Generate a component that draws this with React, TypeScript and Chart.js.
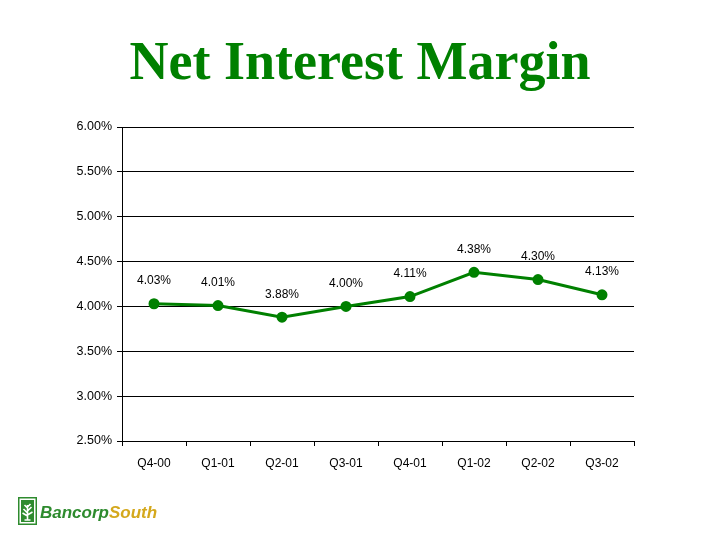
import React, { useEffect, useRef } from "react";
import { Chart, registerables } from "chart.js";

Chart.register(...registerables);

const categories = ["Q4-00", "Q1-01", "Q2-01", "Q3-01", "Q4-01", "Q1-02", "Q2-02", "Q3-02"];
const marginValues = [4.03, 4.01, 3.88, 4.0, 4.11, 4.38, 4.3, 4.13];
const yMin = 2.5;
const yMax = 6.0;
const yStep = 0.5;

const GREEN = "#008000";

const labelPlugin = {
  id: "pointLabels",
  afterDatasetsDraw(chart: any) {
    const ctx = chart.ctx;
    const meta = chart.getDatasetMeta(0);
    ctx.save();
    ctx.font = "12px 'Liberation Sans', Arial, sans-serif";
    ctx.fillStyle = "#000";
    ctx.textAlign = "center";
    ctx.textBaseline = "middle";
    meta.data.forEach((pt: any, i: number) => {
      ctx.fillText(marginValues[i].toFixed(2) + "%", pt.x, pt.y - 23);
    });
    ctx.restore();
  },
};

function Logo() {
  return (
    <div style={{ position: "absolute", left: 18, top: 497, display: "flex", alignItems: "center", height: 28 }}>
      <svg width="19" height="28" viewBox="0 0 19 28">
        <rect x="0" y="0" width="19" height="28" fill="#2e8b2e" />
        <rect x="1.5" y="1.5" width="16" height="25" fill="#fff" />
        <rect x="3" y="3" width="13" height="22" fill="#2e8b2e" />
        <path d="M9.5 23 L9.5 8 M9.5 16 L5.5 12 M9.5 14 L13.5 10 M9.5 19 L4.5 16 M9.5 18 L14.5 15 M9.5 11 L6.5 8 M9.5 10 L12.5 7"
          stroke="#fff" strokeWidth="1.6" fill="none" />
        <path d="M6.5 23 L12.5 23" stroke="#fff" strokeWidth="1.5" />
      </svg>
      <span style={{ marginLeft: 3, marginTop: 4, fontFamily: "'Liberation Sans', Arial, sans-serif", fontWeight: "bold", fontStyle: "italic", fontSize: 17, color: "#2e8b2e" }}>
        Bancorp<span style={{ color: "#d4a81c" }}>South</span>
      </span>
    </div>
  );
}

export default function App() {
  const canvasRef = useRef<HTMLCanvasElement | null>(null);

  useEffect(() => {
    const canvas = canvasRef.current;
    if (!canvas) return;
    const chart = new Chart(canvas, {
      type: "line",
      data: {
        labels: categories,
        datasets: [
          {
            data: marginValues,
            borderColor: GREEN,
            backgroundColor: GREEN,
            borderWidth: 3,
            pointRadius: 4,
            pointBackgroundColor: GREEN,
            pointBorderColor: GREEN,
            tension: 0,
          },
        ],
      },
      options: {
        animation: false,
        responsive: false,
        maintainAspectRatio: false,
        layout: { padding: { left: 62, right: 86, top: 127, bottom: 59 } },
        plugins: { legend: { display: false }, tooltip: { enabled: false }, title: { display: false } },
        scales: {
          x: {
            offset: true,
            afterFit: (s: any) => { s.height = 40; },
            grid: { display: true, drawOnChartArea: false, drawTicks: true, tickLength: 5, offset: true, color: "#000" },
            border: { display: true, color: "#000", width: 1 },
            ticks: { color: "#000", padding: 10, font: { family: "'Liberation Sans', Arial, sans-serif", size: 12 }, maxRotation: 0 },
          },
          y: {
            min: yMin,
            max: yMax,
            afterFit: (s: any) => { s.width = 60; },
            ticks: {
              stepSize: yStep,
              color: "#000",
              padding: 5,
              font: { family: "'Liberation Sans', Arial, sans-serif", size: 12.5 },
              callback: (v: any) => Number(v).toFixed(2) + "%",
            },
            grid: { color: "#000", lineWidth: 1, tickLength: 5, drawTicks: true },
            border: { display: true, color: "#000", width: 1 },
          },
        },
      },
      plugins: [labelPlugin],
    });
    return () => chart.destroy();
  }, []);

  return (
    <div style={{ position: "fixed", left: 0, top: 0, width: 720, height: 540, background: "#fff" }}>
      <div style={{ position: "absolute", left: 0, top: 29, width: 720, textAlign: "center", fontFamily: "'Liberation Serif', 'Times New Roman', serif", fontWeight: "bold", fontSize: 54, lineHeight: "64px", color: GREEN }}>
        Net Interest Margin
      </div>
      <canvas ref={canvasRef} width={720} height={540} style={{ position: "absolute", left: 0, top: 0, width: 720, height: 540 }} />
      <Logo />
    </div>
  );
}
